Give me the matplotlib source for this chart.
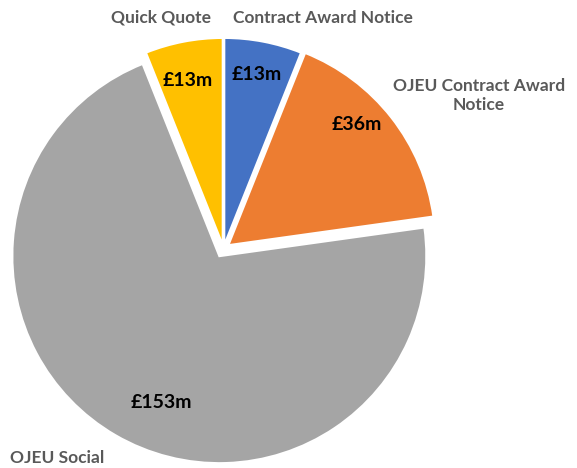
import numpy as np
import matplotlib.pyplot as plt

# Dados
categorias = ['Contract Award Notice', 'OJEU Contract Award\nNotice', 'OJEU Social', 'Quick Quote']
valores    = [13, 36, 153, 13]
rotulos    = ['£13m', '£36m', '£153m', '£13m']
cores      = ['#4472C4', '#ED7D31', '#A5A5A5', '#FFC000']

explode    = [0.02, 0.03, 0.04, 0.02]
dist_val   = [0.86, 0.88, 0.80, 0.83]     # distancia radial do rotulo de valor
desvio_ang = [0, 5, 8, 1]                 # ajuste angular (graus)
# posicao dos nomes das categorias (raio, angulo)
pos_cat    = [(1.215, 66.7), (1.44, 31.0), (1.29, -128.5), (1.16, 105.0)]

fig = plt.figure(figsize=(5.77, 4.68), dpi=100)
ax = fig.add_axes([0, 0, 1, 1])
cx, cy, r = 223.5, 249, 207   # centro e raio em pixels
W, H = 577, 468

wedges, _ = ax.pie(valores, colors=cores, startangle=90, counterclock=False,
                   explode=explode, radius=1,
                   wedgeprops=dict(edgecolor='white', linewidth=1.5))

ax.set_xlim(-cx / r, (W - cx) / r)
ax.set_ylim(-(H - cy) / r, cy / r)
ax.set_aspect('equal')
ax.axis('off')

fonte = ['Lato', 'DejaVu Sans']
for w, lab, d, da, ex in zip(wedges, rotulos, dist_val, desvio_ang, explode):
    ang = np.deg2rad((w.theta1 + w.theta2) / 2 + da)
    ax.text(d * np.cos(ang), d * np.sin(ang), lab, ha='center', va='center',
            fontsize=14, fontweight='bold', color='black', family=fonte)

for nome, (rr, aa) in zip(categorias, pos_cat):
    a = np.deg2rad(aa)
    ax.text(rr * np.cos(a), rr * np.sin(a), nome, ha='center', va='center',
            fontsize=12.5, fontweight='bold', color='#595959', family=fonte,
            linespacing=1.3)

fig.savefig('out.png', dpi=100)
